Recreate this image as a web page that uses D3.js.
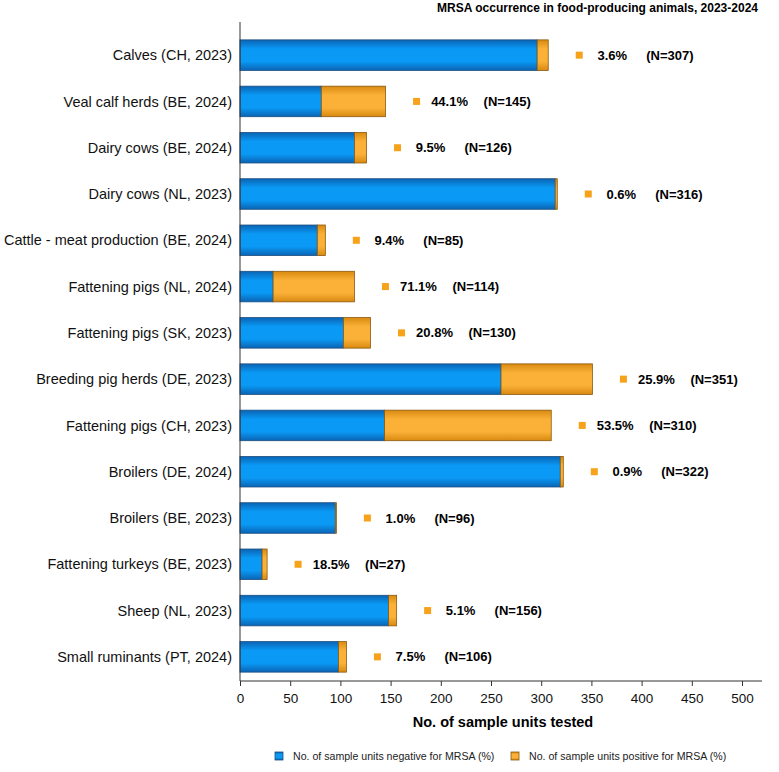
<!DOCTYPE html>
<html>
<head>
<meta charset="utf-8">
<script src="https://cdn.jsdelivr.net/npm/d3@7"></script>
<style>
  body { margin: 0; background: #fff; }
  svg { font-family: "Liberation Sans", Arial, sans-serif; }
</style>
</head>
<body>
<div id="chart"></div>
<script>
// ---- data -----------------------------------------------------------------
const categories = [
  'Calves (CH, 2023)', 'Veal calf herds (BE, 2024)', 'Dairy cows (BE, 2024)',
  'Dairy cows (NL, 2023)', 'Cattle - meat production (BE, 2024)',
  'Fattening pigs (NL, 2024)', 'Fattening pigs (SK, 2023)',
  'Breeding pig herds (DE, 2023)', 'Fattening pigs (CH, 2023)',
  'Broilers (DE, 2024)', 'Broilers (BE, 2023)', 'Fattening turkeys (BE, 2023)',
  'Sheep (NL, 2023)', 'Small ruminants (PT, 2024)'
];
const totals   = [307, 145, 126, 316, 85, 114, 130, 351, 310, 322, 96, 27, 156, 106];
const positive = [11, 64, 12, 2, 8, 81, 27, 91, 166, 3, 1, 5, 8, 8];
const percents = ['3.6%', '44.1%', '9.5%', '0.6%', '9.4%', '71.1%', '20.8%',
                  '25.9%', '53.5%', '0.9%', '1.0%', '18.5%', '5.1%', '7.5%'];
const xTicks   = [0, 50, 100, 150, 200, 250, 300, 350, 400, 450, 500];
const seriesNames = ['No. of sample units negative for MRSA (%)',
                     'No. of sample units positive for MRSA (%)'];

const rows = categories.map((c, i) => ({
  name: c, total: totals[i], neg: totals[i] - positive[i], pos: positive[i], pct: percents[i]
}));

// ---- layout ---------------------------------------------------------------
const W = 779, H = 772;
const m = { left: 240, right: 17, top: 32, bottom: 102 };

const svg = d3.select('#chart').append('svg')
  .attr('width', W).attr('height', H);

const defs = svg.append('defs');
// dégradé vertical "cylindre" : bords sombres, milieu clair
function cyl(id, edge, mid) {
  const g = defs.append('linearGradient').attr('id', id)
    .attr('x1', 0).attr('y1', 0).attr('x2', 0).attr('y2', 1);
  g.append('stop').attr('offset', '0%').attr('stop-color', edge);
  g.append('stop').attr('offset', '30%').attr('stop-color', mid);
  g.append('stop').attr('offset', '70%').attr('stop-color', mid);
  g.append('stop').attr('offset', '100%').attr('stop-color', edge);
}
cyl('gBlue', '#0a64b4', '#0a9af6');
cyl('gOrange', '#d98a10', '#fbb138');

const x = d3.scaleLinear().domain([0, 500]).range([m.left, 742]);
const y = d3.scaleBand().domain(categories)
  .range([m.top, H - m.bottom + 10]).paddingInner(0.34).paddingOuter(0.17);

// title
svg.append('text')
  .attr('x', 758).attr('y', 12)
  .attr('text-anchor', 'end')
  .attr('font-size', '12px').attr('font-weight', 'bold')
  .attr('fill', '#000')
  .text('MRSA occurrence in food-producing animals, 2023-2024');

// bars
const g = svg.append('g');
g.selectAll('rect.neg').data(rows).join('rect')
  .attr('class', 'neg')
  .attr('x', x(0)).attr('y', d => y(d.name))
  .attr('width', d => x(d.neg) - x(0)).attr('height', y.bandwidth())
  .attr('fill', 'url(#gBlue)').attr('stroke', '#1d4f80').attr('stroke-width', 0.8);

g.selectAll('rect.pos').data(rows).join('rect')
  .attr('class', 'pos')
  .attr('x', d => x(d.neg)).attr('y', d => y(d.name))
  .attr('width', d => x(d.total) - x(d.neg)).attr('height', y.bandwidth())
  .attr('fill', 'url(#gOrange)').attr('stroke', '#8a5a10').attr('stroke-width', 0.8);

// annotations : carré + pourcentage + (N=...)
const ann = g.selectAll('g.ann').data(rows).join('g')
  .attr('class', 'ann')
  .attr('transform', d => `translate(${x(d.total) + 31},${y(d.name) + y.bandwidth() / 2})`);
ann.append('rect')
  .attr('x', -3.5).attr('y', -3.5).attr('width', 7).attr('height', 7)
  .attr('fill', '#f7a21b');
ann.append('text')
  .attr('x', 33).attr('dy', '0.35em').attr('text-anchor', 'middle')
  .attr('font-size', '13px').attr('font-weight', 'bold')
  .text(d => d.pct);
ann.append('text')
  .attr('x', 67).attr('dy', '0.35em')
  .attr('font-size', '13px').attr('font-weight', 'bold')
  .text(d => `(N=${d.total})`);

// category labels
svg.append('g').selectAll('text').data(rows).join('text')
  .attr('x', 232).attr('y', d => y(d.name) + y.bandwidth() / 2)
  .attr('dy', '0.35em').attr('text-anchor', 'end')
  .attr('font-size', '14.5px').attr('fill', '#111')
  .text(d => d.name);

// axes
const axisY = 681;
svg.append('line')
  .attr('x1', m.left).attr('x2', m.left).attr('y1', 22).attr('y2', axisY)
  .attr('stroke', '#333').attr('stroke-width', 1);

const xAxis = svg.append('g')
  .attr('transform', `translate(0,${axisY})`)
  .call(d3.axisBottom(x).tickValues(xTicks).tickSize(5).tickSizeOuter(0));
xAxis.select('.domain').attr('d', `M${m.left},0H762`).attr('stroke', '#333');
xAxis.selectAll('.tick line').attr('stroke', '#333');
xAxis.selectAll('.tick text')
  .attr('font-size', '13.5px').attr('font-family', '"Liberation Sans", Arial, sans-serif')
  .attr('fill', '#111').attr('dy', '1.05em');

svg.append('text')
  .attr('x', 503).attr('y', 727)
  .attr('text-anchor', 'middle')
  .attr('font-size', '14.5px').attr('font-weight', 'bold')
  .text('No. of sample units tested');

// legend
const legend = svg.append('g').attr('transform', 'translate(0,756)');
const legendItems = [
  { name: seriesNames[0], fill: 'url(#gBlue)', stroke: '#1d4f80', x: 275 },
  { name: seriesNames[1], fill: 'url(#gOrange)', stroke: '#8a5a10', x: 511 }
];
const li = legend.selectAll('g').data(legendItems).join('g')
  .attr('transform', d => `translate(${d.x},0)`);
li.append('rect')
  .attr('x', 0).attr('y', -4).attr('width', 8).attr('height', 8)
  .attr('fill', d => d.fill).attr('stroke', d => d.stroke).attr('stroke-width', 0.8);
li.append('text')
  .attr('x', 18).attr('dy', '0.35em')
  .attr('font-size', '10.6px').attr('fill', '#222')
  .text(d => d.name);
</script>
</body>
</html>
